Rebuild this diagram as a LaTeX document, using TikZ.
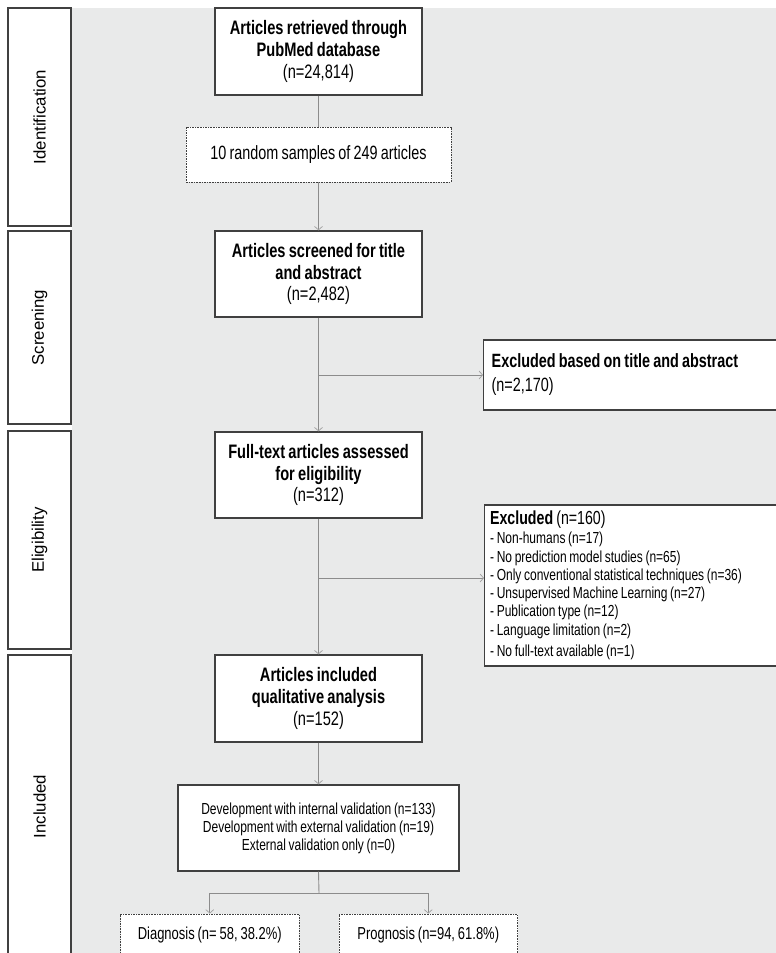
\documentclass[tikz,border=0pt]{standalone}
\usepackage{fontspec}
\setmainfont{Liberation Sans}[FakeStretch=0.75, WordSpace=0.8]
\newfontfamily\sidefont{Liberation Sans}
\usetikzlibrary{arrows.meta}

\definecolor{panel}{HTML}{E9EAEA}
\definecolor{edge}{HTML}{404040}
\definecolor{wirecol}{HTML}{8C8C8C}
\definecolor{tipcol}{HTML}{A0A0A0}

\tikzset{
  stagebox/.style={draw=edge, line width=1.5pt, fill=white, rotate=90,
    minimum height=63pt, inner sep=0pt,
    font=\sidefont\fontsize{16.8}{19}\selectfont},
  mainbox/.style={draw=edge, line width=1.3pt, fill=white, align=center,
    inner sep=0pt, minimum width=207pt,
    font=\fontsize{19.5}{21.7}\selectfont},
  notebox/.style={draw=edge, line width=1.3pt, fill=white, align=flush left,
    inner ysep=0pt, anchor=west},
  dashbox/.style={draw=edge, line width=0.9pt, dash pattern=on 1.6pt off 1pt,
    fill=white, align=center, inner sep=0pt},
  wire/.style={draw=wirecol, line width=0.9pt},
  tipped/.style={wire, -{Straight Barb[length=3.5pt, width=8pt, line width=0.7pt, color=tipcol]}}
}

\begin{document}
\begin{tikzpicture}[x=1pt, y=-1pt]
\useasboundingbox (0,0) rectangle (776,953);
\clip (0,0) rectangle (776,953);

% grey panel behind the flow
\fill[panel] (72,8) rectangle (776,953);

% stage labels down the left side
\node[stagebox, minimum width=218pt] (sIdent) at (39.5,117)   {Identification};
\node[stagebox, minimum width=193pt] (sScreen) at (39.5,327.5) {Screening};
\node[stagebox, minimum width=218pt] (sElig) at (39.5,540)    {Eligibility};
\node[stagebox, minimum width=303pt] (sIncl) at (39.5,806.5)  {Included};

% main column
\node[mainbox, minimum height=87pt] (retrieved) at (318.5,51.5)
  {\textbf{Articles retrieved through}\\\textbf{PubMed database}\\(n=24,814)};
\node[dashbox, minimum width=265pt, minimum height=55pt,
      font=\fontsize{19.2}{21}\selectfont] (samples) at (318.5,154.5)
  {10 random samples of 249 articles};
\node[mainbox, minimum height=86pt] (screened) at (318.5,274)
  {\textbf{Articles screened for title}\\\textbf{and abstract}\\(n=2,482)};
\node[mainbox, minimum height=86pt] (fulltext) at (318.5,475)
  {\textbf{Full-text articles assessed}\\\textbf{for eligibility}\\(n=312)};
\node[mainbox, minimum height=87pt] (included) at (318.5,698.5)
  {\textbf{Articles included}\\\textbf{qualitative analysis}\\(n=152)};
\node[mainbox, minimum width=281pt, minimum height=86pt,
      font=\fontsize{16}{18}\selectfont] (design) at (318.5,828)
  {Development with internal validation (n=133)\\
   Development with external validation (n=19)\\
   External validation only (n=0)};

% exclusion boxes on the right
\node[notebox, inner xsep=8pt, text width=300pt, minimum height=70pt,
      font=\fontsize{19.2}{21.7}\selectfont] (excl1) at (483,375)
  {\textbf{Excluded based on title and abstract}\\[2.3pt](n=2,170)};
\node[notebox, inner xsep=5.5pt, text width=300pt, minimum height=161pt,
      font=\fontsize{16}{18.3}\selectfont] (excl2) at (484,585.5)
  {{\fontsize{18.9}{18.3}\selectfont\textbf{Excluded} (n=160)}\\[0.7pt]
   - Non-humans (n=17)\\
   - No prediction model studies (n=65)\\
   - Only conventional statistical techniques (n=36)\\
   - Unsupervised Machine Learning (n=27)\\
   - Publication type (n=12)\\
   - Language limitation (n=2)\\[3pt]
   - No full-text available (n=1)};

% outcome boxes
\node[dashbox, minimum width=178.5pt, minimum height=42pt,
      font=\fontsize{17.3}{19}\selectfont] (diag) at (209.75,935)
  {Diagnosis (n= 58, 38.2\%)};
\node[dashbox, minimum width=178.5pt, minimum height=42pt,
      font=\fontsize{17.3}{19}\selectfont] (prog) at (428.25,935)
  {Prognosis (n=94, 61.8\%)};

% connectors
\coordinate (jScreen) at (319,375);
\coordinate (jElig) at (319,578);
\coordinate (split) at (319,893);

\draw[wire] (retrieved.south) -- (samples.north);
\draw[tipped] (samples.south) -- (screened.north);
\draw[tipped] (screened.south) -- (fulltext.north);
\draw[tipped] (jScreen) -- (jScreen -| excl1.west);
\draw[tipped] (fulltext.south) -- (included.north);
\draw[tipped] (jElig) -- (jElig -| excl2.west);
\draw[tipped] (included.south) -- (design.north);
\draw[wire] (design.south) -- (split);
\draw[tipped] (split) -| (diag.north);
\draw[tipped] (split) -| (prog.north);
\end{tikzpicture}
\end{document}
